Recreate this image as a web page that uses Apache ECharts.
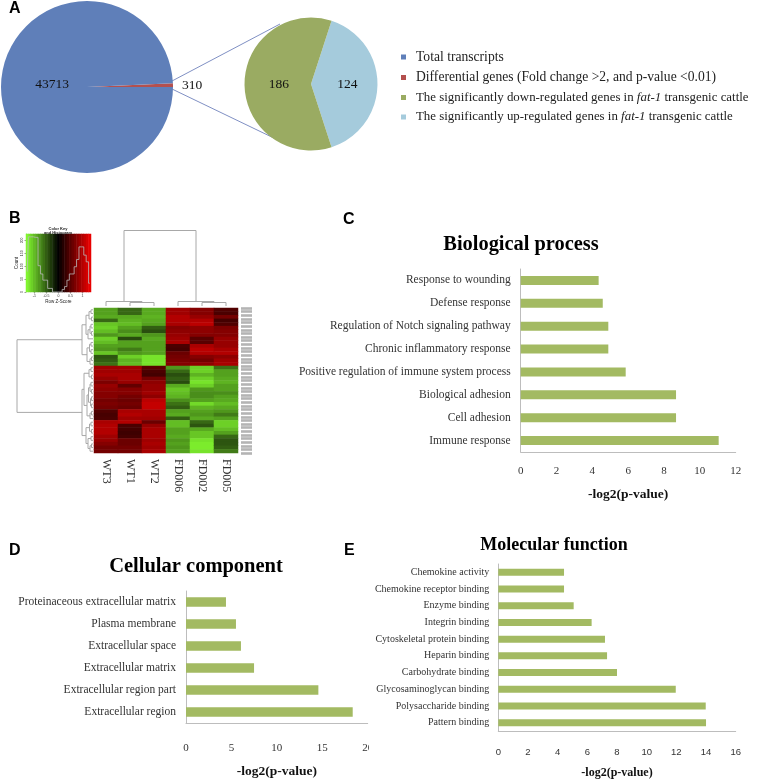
<!DOCTYPE html>
<html>
<head>
<meta charset="utf-8">
<style>html,body{margin:0;padding:0;background:#fff}#main{width:766px;height:780px}</style>
<script src="https://cdn.jsdelivr.net/npm/echarts@6/dist/echarts.min.js"></script>
</head>
<body>
<div id="main"></div>
<script>
// panel A
var pieNames = ['Total transcripts', 'Differential genes (Fold change >2, and p-value <0.01)',
  'The significantly down-regulated genes in fat-1 transgenic cattle',
  'The significantly up-regulated genes in fat-1 transgenic cattle'];
var pieValues = [43713, 310, 186, 124];
var pieColors = ['#5f7fb9', '#b4504e', '#9aab62', '#a5cbdc'];

// panel B heatmap, one array per sample, top row first
var samples = ['WT3', 'WT1', 'WT2', 'FD006', 'FD002', 'FD005'];
var wt3 = [-0.85,-0.85,-0.9,-0.55,-1.05,-1.1,-1.0,-0.8,-1.1,-1.0,-0.85,-0.8,-1.05,-0.45,-0.5,-0.6,
  0.9,0.9,0.95,0.85,0.7,0.85,0.8,0.75,0.75,0.65,0.7,0.65,0.45,0.4,0.42,0.95,1.0,1.0,1.0,0.9,0.85,0.75,0.65,0.65];
var wt1 = [-0.55,-0.55,-0.9,-0.95,-1.0,-0.85,-0.75,-0.9,-0.4,-0.85,-0.85,-0.65,-0.8,-1.1,-0.95,-1.0,
  0.9,0.9,0.95,0.95,0.85,0.55,0.75,0.75,0.65,0.6,0.65,0.6,0.95,1.0,0.9,1.0,0.42,0.38,0.35,0.38,0.6,0.6,0.65,0.65];
var wt2 = [-0.9,-0.9,-0.95,-0.9,-0.85,-0.5,-0.42,-0.8,-0.9,-0.85,-0.85,-0.85,-0.85,-1.2,-1.2,-1.2,
  0.5,0.42,0.38,0.65,0.8,0.85,0.85,0.9,0.8,1.05,1.1,1.1,0.95,0.95,0.9,0.6,0.85,0.95,0.95,0.95,0.9,0.95,0.9,0.95];
var fd006 = [0.9,0.9,1.0,1.0,0.95,0.75,0.8,0.85,0.9,0.95,0.42,0.38,0.6,0.65,0.7,0.75,
  -0.8,-0.55,-0.42,-0.5,-0.4,-0.9,-1.05,-1.0,-0.95,-0.75,-0.6,-0.5,-0.85,-0.9,-0.5,-1.0,-1.0,-0.85,-0.85,-0.9,-0.8,-0.85,-0.8,-0.85];
var fd002 = [0.75,0.75,0.85,1.0,1.05,0.8,0.8,0.75,0.5,0.5,0.95,1.05,1.0,0.75,0.65,0.8,
  -1.1,-1.1,-0.95,-1.1,-1.2,-1.1,-0.8,-0.75,-0.75,-0.85,-1.15,-0.95,-0.85,-0.8,-0.9,-0.55,-0.45,-0.9,-1.05,-1.05,-1.2,-1.25,-1.25,-1.2];
var fd005 = [0.45,0.42,0.65,0.38,0.45,0.7,0.75,0.75,0.85,0.85,0.85,0.95,1.0,0.8,0.9,0.95,
  -0.6,-0.85,-0.85,-0.9,-0.95,-0.85,-0.85,-0.75,-0.85,-0.9,-1.0,-0.9,-0.8,-0.65,-0.85,-1.1,-1.1,-1.0,-0.85,-0.55,-0.45,-0.45,-0.5,-0.65];
var rowIds = wt3.map(function (v, i) { return 'g' + i; });

// dendrograms: [position a, height a, position b, height b, merge height]
var colTree = [[1.5,0,2.5,0,3.5],[0.5,0,2,3.5,4.5],[4.5,0,5.5,0,3.5],[3.5,0,5,3.5,4.5],[1.25,4.5,4.25,4.5,75.5]];
var rowTree = [
  [0.5,0,1.5,0,2],[2.5,0,3.5,0,1.5],[1,2,3,1.5,4],[4.5,0,5.5,0,2],[6.5,0,7.5,0,1.5],[5,2,7,1.5,3],
  [6,3,8.5,0,5],[2,4,7.25,5,7],[9.5,0,10.5,0,2],[11.5,0,12.5,0,2],[10,2,12,2,3.5],[13.5,0,14.5,0,1.5],
  [14,1.5,15.5,0,3],[11,3.5,14.75,3,6],[4.625,7,12.875,6,11],
  [16.5,0,17.5,0,2],[18.5,0,19.5,0,1.5],[17,2,19,1.5,4],[20.5,0,21.5,0,2],[22.5,0,23.5,0,1.5],[21,2,23,1.5,3],
  [24.5,0,25.5,0,1.5],[26.5,0,27.5,0,1.5],[25,1.5,27,1.5,2.5],[22,3,26,2.5,4.5],[28.5,0,29.5,0,1.5],
  [29,1.5,30.5,0,3],[24,4.5,29.75,3,6],[18,4,26.875,6,9],
  [31.5,0,32.5,0,2],[33.5,0,34.5,0,1.5],[32,2,34,1.5,3.5],[35.5,0,36.5,0,2],[37.5,0,38.5,0,1.5],
  [38,1.5,39.5,0,3],[36,2,38.75,3,5],[33,3.5,37.375,5,7],[22.4375,9,35.1875,7,11],
  [8.75,11,28.8,11,76]
];

// colour key and its histogram
var keyBins = ['-1.3','-1.2','-1.1','-1','-0.9','-0.8','-0.7','-0.6','-0.5','-0.4','-0.3','-0.2','-0.1','0',
  '0.1','0.2','0.3','0.4','0.5','0.6','0.7','0.8','0.9','1','1.1','1.2','1.3'];
var keyCounts = [79,214,214,212,212,102,70,46,46,14,14,0,0,0,0,10,21,46,70,70,98,126,175,175,143,117,34];
var keyTicks = ['-1','-0.5','0','0.5','1'];

// panels C, D, E
var bpNames = ['Response to wounding','Defense response','Regulation of Notch signaling pathway','Chronic inflammatory response',
  'Positive regulation of immune system process','Biological adhesion','Cell adhesion','Immune response'];
var bpValues = [4.35,4.58,4.89,4.89,5.86,8.67,8.67,11.05];
var ccNames = ['Proteinaceous extracellular matrix','Plasma membrane','Extracellular space','Extracellular matrix',
  'Extracellular region part','Extracellular region'];
var ccValues = [4.4,5.5,6.05,7.49,14.57,18.35];
var mfNames = ['Chemokine activity','Chemokine receptor binding','Enzyme binding','Integrin binding','Cytoskeletal protein binding',
  'Heparin binding','Carbohydrate binding','Glycosaminoglycan binding','Polysaccharide binding','Pattern binding'];
var mfValues = [4.43,4.43,5.08,6.29,7.19,7.33,8.0,11.96,13.98,14.0];

var SERIF = '"Liberation Serif"';
var SANS = '"Liberation Sans"';
var myChart = echarts.init(document.getElementById('main'));

var titles = [];
function addTitle(text, x, y, size, font, align) {
  titles.push({
    text: text, left: x, top: y, padding: 0, textAlign: align || 'center', textVerticalAlign: 'middle',
    textStyle: { fontFamily: font, fontWeight: 'bold', fontSize: size, color: '#000' }
  });
}
addTitle('A', 9, 9, 16, SANS, 'left');
addTitle('B', 9, 219, 16, SANS, 'left');
addTitle('C', 343, 220, 16, SANS, 'left');
addTitle('D', 9, 551, 16, SANS, 'left');
addTitle('E', 344, 551, 16, SANS, 'left');
addTitle('Biological process', 521, 245, 20.4, SERIF);
addTitle('Cellular component', 196, 567, 20.5, SERIF);
addTitle('Molecular function', 554, 545, 18, SERIF);
titles.push({
  text: 'Color Key\nand Histogram', left: 58, top: 231, padding: 0, textAlign: 'center', textVerticalAlign: 'middle',
  textStyle: { fontFamily: SANS, fontWeight: 'bold', fontSize: 4, lineHeight: 4.5, color: '#222' }
});

var grids = [], xAxes = [], yAxes = [], series = [];

function addBars(names, values, box, opt) {
  var idx = grids.length;
  grids.push({ left: box[0], top: box[1], width: box[2], height: box[3], containLabel: false });
  xAxes.push({
    gridIndex: idx, type: 'value', min: 0, max: opt.max, interval: opt.step, position: 'bottom',
    name: '-log2(p-value)', nameLocation: 'middle', nameGap: opt.nameGap,
    nameTextStyle: { fontFamily: SERIF, fontWeight: 'bold', fontSize: opt.nameSize, color: '#111' },
    axisLine: { show: true, lineStyle: { color: '#bdbdbd' } }, axisTick: { show: false }, splitLine: { show: false },
    axisLabel: { fontFamily: opt.tickFont, fontSize: opt.tickSize, color: '#333', margin: opt.tickMargin, hideOverlap: false, showMinLabel: true, showMaxLabel: true }
  });
  yAxes.push({
    gridIndex: idx, type: 'category', inverse: true, data: names,
    axisLine: { show: true, lineStyle: { color: '#bdbdbd' } }, axisTick: { show: false },
    axisLabel: { fontFamily: SERIF, fontSize: opt.labelSize, color: '#333', margin: opt.labelMargin, interval: 0, padding: [2, 0, 0, 0] }
  });
  series.push({
    type: 'bar', xAxisIndex: idx, yAxisIndex: idx, data: values, barWidth: opt.barWidth,
    itemStyle: { color: '#a3ba62' }, silent: true
  });
}
addBars(bpNames, bpValues, [520.7, 269, 215, 183], { max: 12, step: 2, nameGap: 36, nameSize: 13.5, tickFont: SERIF, tickSize: 11, tickMargin: 14, labelSize: 11.5, labelMargin: 10, barWidth: 9 });
addBars(ccNames, ccValues, [186, 591, 181.7, 139.7], { max: 20, step: 5, nameGap: 42, nameSize: 13.5, tickFont: SERIF, tickSize: 11, tickMargin: 20, labelSize: 11.5, labelMargin: 10, barWidth: 9.5 });
addBars(mfNames, mfValues, [498.3, 564, 237.4, 173.3], { max: 16, step: 2, nameGap: 36, nameSize: 12, tickFont: SANS, tickSize: 9.5, tickMargin: 16, labelSize: 10, labelMargin: 9, barWidth: 7 });

// main heatmap
var columns = [wt3, wt1, wt2, fd006, fd002, fd005];
var heatData = [];
columns.forEach(function (col, c) {
  col.forEach(function (v, r) { heatData.push([c, r, v]); });
});
var heatIdx = grids.length;
grids.push({ left: 94, top: 308, width: 144, height: 145 });
xAxes.push({
  gridIndex: heatIdx, type: 'category', data: samples, position: 'bottom',
  axisLine: { show: false }, axisTick: { show: false },
  axisLabel: { rotate: -90, fontFamily: SERIF, fontSize: 12, color: '#333', margin: 6, interval: 0 }
});
yAxes.push({
  gridIndex: heatIdx, type: 'category', inverse: true, data: rowIds,
  axisLine: { show: false }, axisTick: { show: false }, axisLabel: { show: false }
});
// the unreadable row ids on the right of the heatmap come out as grey ticks
yAxes.push({
  gridIndex: heatIdx, type: 'category', inverse: true, data: rowIds, position: 'right', offset: 3,
  axisLine: { show: false }, axisLabel: { show: false },
  axisTick: { show: true, length: 11, interval: 0, lineStyle: { color: '#b4b4b4', width: 2.6 } }
});
var heatY = yAxes.length - 2;
series.push({ type: 'heatmap', xAxisIndex: heatIdx, yAxisIndex: heatY, data: heatData, silent: true, progressive: 0 });
var heatSeries = series.length - 1;

function treeItem(horizontal) {
  return function (params, api) {
    var a = api.value(0), ha = api.value(1), b = api.value(2), hb = api.value(3), h = api.value(4);
    var pts = [[a, ha], [a, h], [b, h], [b, hb]].map(function (q) {
      return api.coord(horizontal ? [q[1], q[0]] : q);
    });
    return { type: 'polyline', shape: { points: pts }, style: { stroke: '#a8a8a8', fill: null, lineWidth: 1 } };
  };
}

// column dendrogram
var colIdx = grids.length;
grids.push({ left: 94, top: 230, width: 144, height: 76 });
xAxes.push({ gridIndex: colIdx, type: 'value', min: 0, max: 6, show: false });
yAxes.push({ gridIndex: colIdx, type: 'value', min: 0, max: 76, show: false });
series.push({
  type: 'custom', xAxisIndex: colIdx, yAxisIndex: yAxes.length - 1, data: colTree, silent: true,
  renderItem: treeItem(false), encode: { x: [0, 2], y: [1, 3, 4] }
});

// row dendrogram
var rowIdx = grids.length;
grids.push({ left: 16, top: 308, width: 77, height: 145 });
xAxes.push({ gridIndex: rowIdx, type: 'value', min: 0, max: 77, inverse: true, show: false });
yAxes.push({ gridIndex: rowIdx, type: 'value', min: 0, max: 40, inverse: true, show: false });
series.push({
  type: 'custom', xAxisIndex: rowIdx, yAxisIndex: yAxes.length - 1, data: rowTree, silent: true,
  renderItem: treeItem(true), encode: { y: [0, 2], x: [1, 3, 4] }
});

// colour key
var keyIdx = grids.length;
var keyData = keyBins.map(function (b, i) { return [i, 0, parseFloat(b)]; });
function isKeyTick(i, v) { return keyTicks.indexOf(v) >= 0; }
grids.push({ left: 26, top: 234, width: 65, height: 58 });
xAxes.push({
  gridIndex: keyIdx, type: 'category', data: keyBins, position: 'bottom',
  name: 'Row Z-Score', nameLocation: 'middle', nameGap: 7,
  nameTextStyle: { fontFamily: SANS, fontSize: 4.5, color: '#222' },
  axisLine: { show: false },
  axisTick: { show: true, length: 1.5, alignWithLabel: true, interval: isKeyTick, lineStyle: { color: '#333', width: 0.5 } },
  axisLabel: { show: true, fontFamily: SANS, fontSize: 3.5, color: '#333', margin: 2, interval: isKeyTick }
});
yAxes.push({ gridIndex: keyIdx, type: 'category', data: ['key'], show: false });
var keyHeatY = yAxes.length - 1;
yAxes.push({
  gridIndex: keyIdx, type: 'value', min: 0, max: 225, interval: 50, position: 'left',
  name: 'Count', nameLocation: 'middle', nameGap: 7,
  nameTextStyle: { fontFamily: SANS, fontSize: 4.5, color: '#222' },
  splitLine: { show: false },
  axisLine: { show: true, lineStyle: { color: '#555', width: 0.5 } },
  axisTick: { show: true, length: 1.5, lineStyle: { color: '#333', width: 0.5 } },
  axisLabel: { fontFamily: SANS, fontSize: 3.5, color: '#333', margin: 2, rotate: 90, showMaxLabel: false }
});
series.push({ type: 'heatmap', xAxisIndex: keyIdx, yAxisIndex: keyHeatY, data: keyData, silent: true, progressive: 0 });
var keySeries = series.length - 1;
series.push({
  type: 'line', xAxisIndex: keyIdx, yAxisIndex: yAxes.length - 1, data: keyCounts, step: 'middle', symbol: 'none', silent: true,
  lineStyle: { color: '#b9b9b9', width: 0.8 }, z: 5
});

// panel A pies
function pieItem(i) {
  return { name: pieNames[i], value: pieValues[i], itemStyle: { color: pieColors[i] } };
}
var pieLabel = { show: true, position: 'inner', formatter: '{c}', fontFamily: SERIF, fontSize: 13.5, color: '#111' };
series.push({
  type: 'pie', center: [87, 87], radius: [0, 86], startAngle: 2.5, clockwise: true, silent: true,
  data: [
    Object.assign(pieItem(1), {
      label: { show: true, position: 'outside', formatter: '{c}', fontFamily: SERIF, fontSize: 13.5, color: '#111' },
      labelLine: { show: false }
    }),
    Object.assign(pieItem(0), { label: pieLabel })
  ],
  labelLayout: function (params) {
    return params.dataIndex === 1 ? { dx: 11, dy: -4 } : {};
  },
  labelLine: { show: false, length: 2, length2: 2 }
});
series.push({
  type: 'pie', center: [311, 84], radius: [0, 66.5], startAngle: 72, clockwise: true, silent: true,
  data: [pieItem(3), pieItem(2)],
  labelLayout: function (params) {
    return params.dataIndex === 1 ? { dx: 4 } : {};
  },
  label: pieLabel, labelLine: { show: false }
});

var option = {
  animation: false,
  backgroundColor: '#fff',
  title: titles,
  grid: grids,
  xAxis: xAxes,
  yAxis: yAxes,
  visualMap: {
    show: false, type: 'continuous', min: -1.35, max: 1.35, dimension: 2, seriesIndex: [heatSeries, keySeries],
    inRange: { color: ['#86ff30', '#000000', '#f00000'] }
  },
  legend: {
    orient: 'vertical', left: 396, top: 45, itemWidth: 5, itemHeight: 5, itemGap: 6.5, icon: 'rect', selectedMode: false,
    data: pieNames,
    formatter: function (name) {
      return name.indexOf('fat-1') < 0 ? '{w|' + name + '}' :
        '{n|' + name.split('fat-1')[0] + '}{i|fat-1}{n|' + name.split('fat-1')[1] + '}';
    },
    textStyle: {
      padding: [0, 0, 0, 5],
      rich: {
        w: { fontFamily: SERIF, fontSize: 13.6, color: '#222' },
        n: { fontFamily: SERIF, fontSize: 12.9, color: '#222' },
        i: { fontFamily: SERIF, fontSize: 12.9, fontStyle: 'italic', color: '#222' }
      }
    }
  },
  graphic: [
    { type: 'line', shape: { x1: 172, y1: 81, x2: 280, y2: 24 }, style: { stroke: '#8090c4', lineWidth: 1 }, silent: true },
    { type: 'line', shape: { x1: 172, y1: 89, x2: 280, y2: 141 }, style: { stroke: '#8090c4', lineWidth: 1 }, silent: true },
    // panel E's frame cuts off the last tick label of panel D
    { type: 'rect', shape: { x: 369, y: 740, width: 12, height: 16 }, style: { fill: '#fff' }, z: 100, silent: true }
  ],
  series: series
};
myChart.setOption(option);
</script>
</body>
</html>
